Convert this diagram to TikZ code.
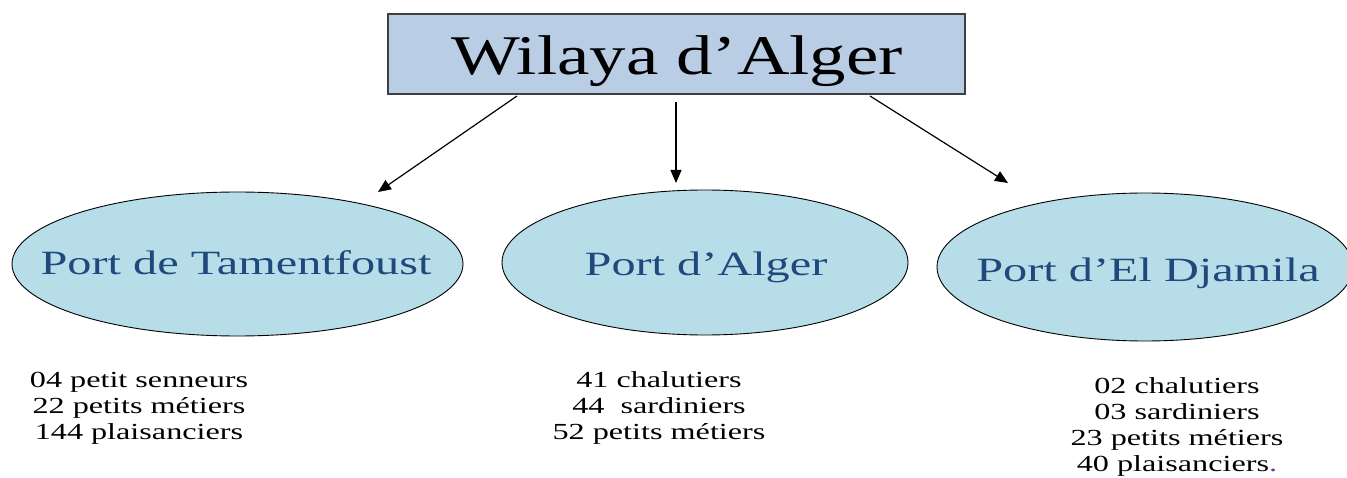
\documentclass[tikz,border=0pt]{standalone}
\usepackage{fontspec}
\setmainfont{Liberation Serif}
\usetikzlibrary{shapes.geometric,arrows.meta}
\definecolor{boxfill}{HTML}{B9CDE5}
\definecolor{boxline}{HTML}{3F3F3F}
\definecolor{ellfill}{HTML}{B7DEE8}
\definecolor{porttext}{HTML}{1F497D}
\definecolor{dotcol}{HTML}{7030A0}
\newcommand\stretchT[1]{\scalebox{1.30}[1]{#1}}
\newcommand\stretchP[1]{\scalebox{1.42}[1]{#1}}
\newcommand\stretchL[1]{\scalebox{1.40}[1]{#1}}
\tikzset{
  titlebox/.style={draw=boxline, line width=1.2pt, fill=boxfill, minimum width=577pt, minimum height=80pt, inner sep=0pt},
  titletext/.style={inner sep=0pt, font=\fontsize{56}{60}\selectfont},
  portell/.style={ellipse, draw=black, line width=0.9pt, fill=ellfill, inner sep=0pt},
  porttxt/.style={text=porttext, inner sep=0pt, font=\fontsize{34}{38}\selectfont},
  listtext/.style={align=center, inner sep=0pt, font=\fontsize{23}{26}\selectfont},
  arr/.style={line width=1.2pt, -{Triangle[length=13pt,width=11pt]}}
}
\begin{document}
\begin{tikzpicture}[x=1pt,y=1pt]
\useasboundingbox (0,0) rectangle (1347,477);
\begin{scope}
\clip (0,0) rectangle (1347,477);
\node[titlebox] (wilaya) at (676.5,423) {};
\node[portell, minimum width=451pt, minimum height=144pt] (tam) at (237.5,213) {};
\node[portell, minimum width=406pt, minimum height=145pt] (alg) at (705,214.5) {};
\node[portell, minimum width=416pt, minimum height=148pt] (dja) at (1145,210) {};
\end{scope}
\node[titletext] (wilayat) at (677,416) {\stretchT{Wilaya d’Alger}};
\node[porttxt] (tamt) at (236,214) {\stretchP{Port de Tamentfoust}};
\node[porttxt] (algt) at (706,210) {\stretchP{Port d’Alger}};
\node[porttxt] (djat) at (1148,204) {\stretchP{Port d’El Djamila}};
\coordinate (a1s) at (517,381);
\coordinate (a1e) at (378,285);
\coordinate (a2s) at (676,375);
\coordinate (a2e) at (676,294);
\coordinate (a3s) at (870,381);
\coordinate (a3e) at (1008,294);
\draw[arr] (a1s) -- (a1e);
\draw[arr] (a2s) -- (a2e);
\draw[arr] (a3s) -- (a3e);
\node[listtext] (l1) at (139,69) {\stretchL{04 petit senneurs}\\ \stretchL{22 petits métiers}\\ \stretchL{144 plaisanciers}};
\node[listtext] (l2) at (659,69) {\stretchL{41 chalutiers}\\ \stretchL{44\ \ sardiniers}\\ \stretchL{52 petits métiers}};
\node[listtext] (l3) at (1177,50) {\stretchL{02 chalutiers}\\ \stretchL{03 sardiniers}\\ \stretchL{23 petits métiers}\\ \stretchL{40 plaisanciers{\color{dotcol}.}}};
\end{tikzpicture}
\end{document}
